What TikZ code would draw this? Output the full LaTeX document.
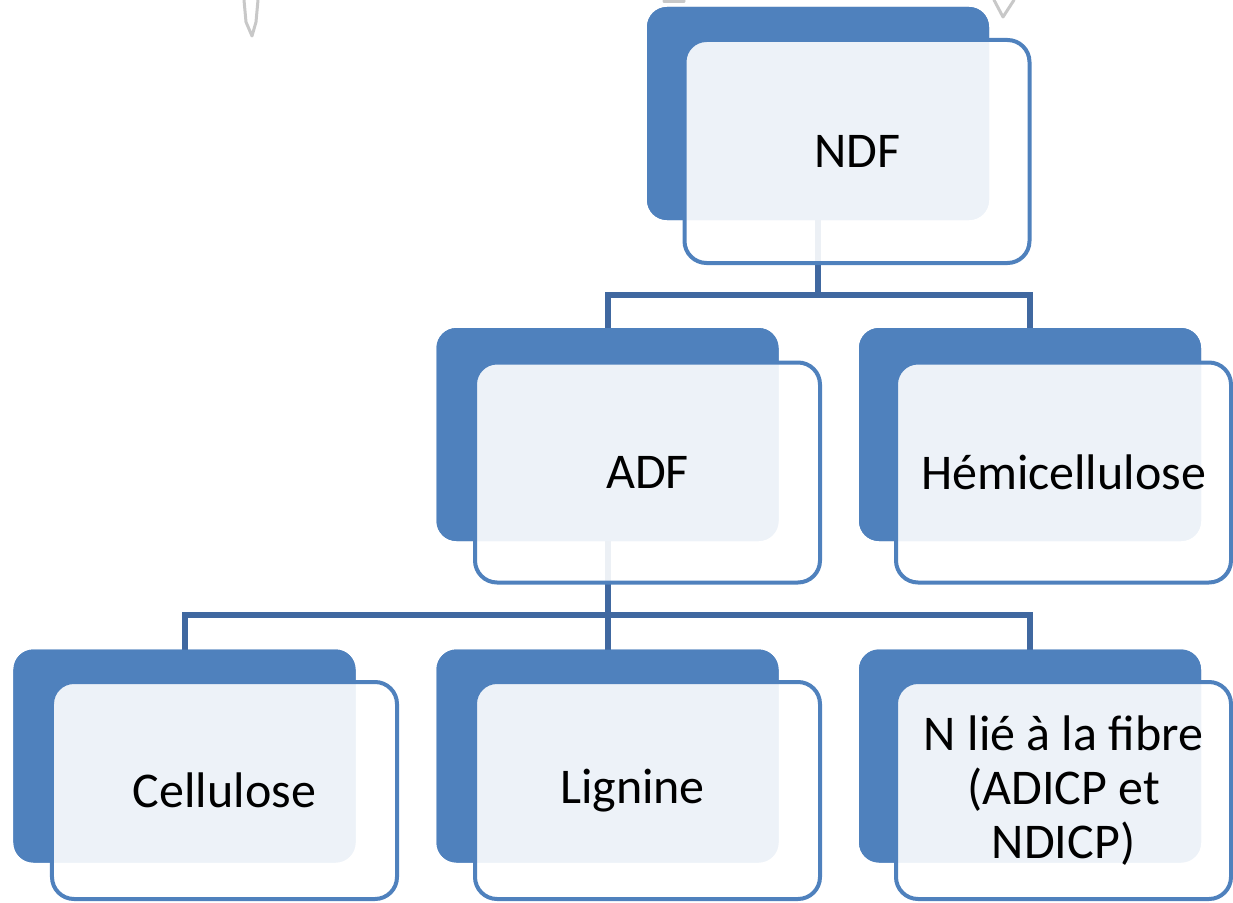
\documentclass[tikz,border=0pt]{standalone}
\usepackage{fontspec}
\setmainfont{Carlito}
\definecolor{blueA}{RGB}{79,129,189}
\definecolor{lineC}{RGB}{64,104,160}
\definecolor{artC}{RGB}{200,200,200}
\tikzset{
  backbox/.style={rectangle, rounded corners=20bp, fill=blueA, draw=none,
    minimum width=342bp, minimum height=213bp, inner sep=0pt, outer sep=0pt},
  frontbox/.style={rectangle, rounded corners=22bp, fill=white, fill opacity=0.9,
    text opacity=1, draw=blueA, line width=4bp, minimum width=345bp,
    minimum height=220bp, align=center, inner sep=0pt, outer sep=0pt,
    font=\fontsize{50bp}{54bp}\selectfont, text=black},
  conn/.style={draw=lineC, line width=6bp},
  artifact/.style={draw=artC, line width=3bp, line cap=round, line join=round},
}
\begin{document}
\begin{tikzpicture}[x=1bp,y=-1bp]
\useasboundingbox (0,0) rectangle (1233,903);
% faint artifacts at top
\draw[artifact] (244,0) -- (246,22) -- (252,36) -- (256,22) -- (258,0);
\draw[artifact] (994,0) -- (1003,17) -- (1014,0);
\draw[artifact] (664,1) -- (684,1);
% back boxes (needed for connector anchors)
\node[backbox] (ndfb)  at (818,113.5) {};
\node[backbox] (adfb)  at (607.5,434.5) {};
\node[backbox] (hemib) at (1030,434.5) {};
\node[backbox] (celb)  at (184.5,756) {};
\node[backbox] (ligb)  at (607.5,756) {};
\node[backbox] (nlieb) at (1030,756) {};
% connectors
\coordinate (j1) at (818,295);
\coordinate (j2) at (607.5,615);
\draw[conn] (ndfb.south) -- (j1);
\draw[conn] (adfb.north) |- (j1) -| (hemib.north);
\draw[conn] (adfb.south) -- (j2);
\draw[conn] (celb.north) |- (j2) -| (nlieb.north);
\draw[conn] (j2) -- (ligb.north);
% redraw back boxes over connectors
\node[backbox] at (ndfb) {};
\node[backbox] at (adfb) {};
\node[backbox] at (hemib) {};
\node[backbox] at (celb) {};
\node[backbox] at (ligb) {};
\node[backbox] at (nlieb) {};
% front boxes with text
\node[frontbox, minimum height=223bp] (ndf) at (857,151.5) {NDF};
\node[frontbox] (adf) at (647.5,472.5) {ADF};
\node[frontbox, minimum width=335bp] (hemi) at (1063.5,472.5) {Hémicellulose};
\node[frontbox, minimum height=217bp] (cel) at (224.5,790.5) {Cellulose};
\node[frontbox, minimum height=217bp] (lig) at (647.5,790.5) {Lignine\hspace*{30bp}};
\node[frontbox, minimum width=335bp, minimum height=217bp] (nlie) at (1063.5,790.5) {N lié à la fibre\\(ADICP et\\NDICP)};
\end{tikzpicture}
\end{document}
